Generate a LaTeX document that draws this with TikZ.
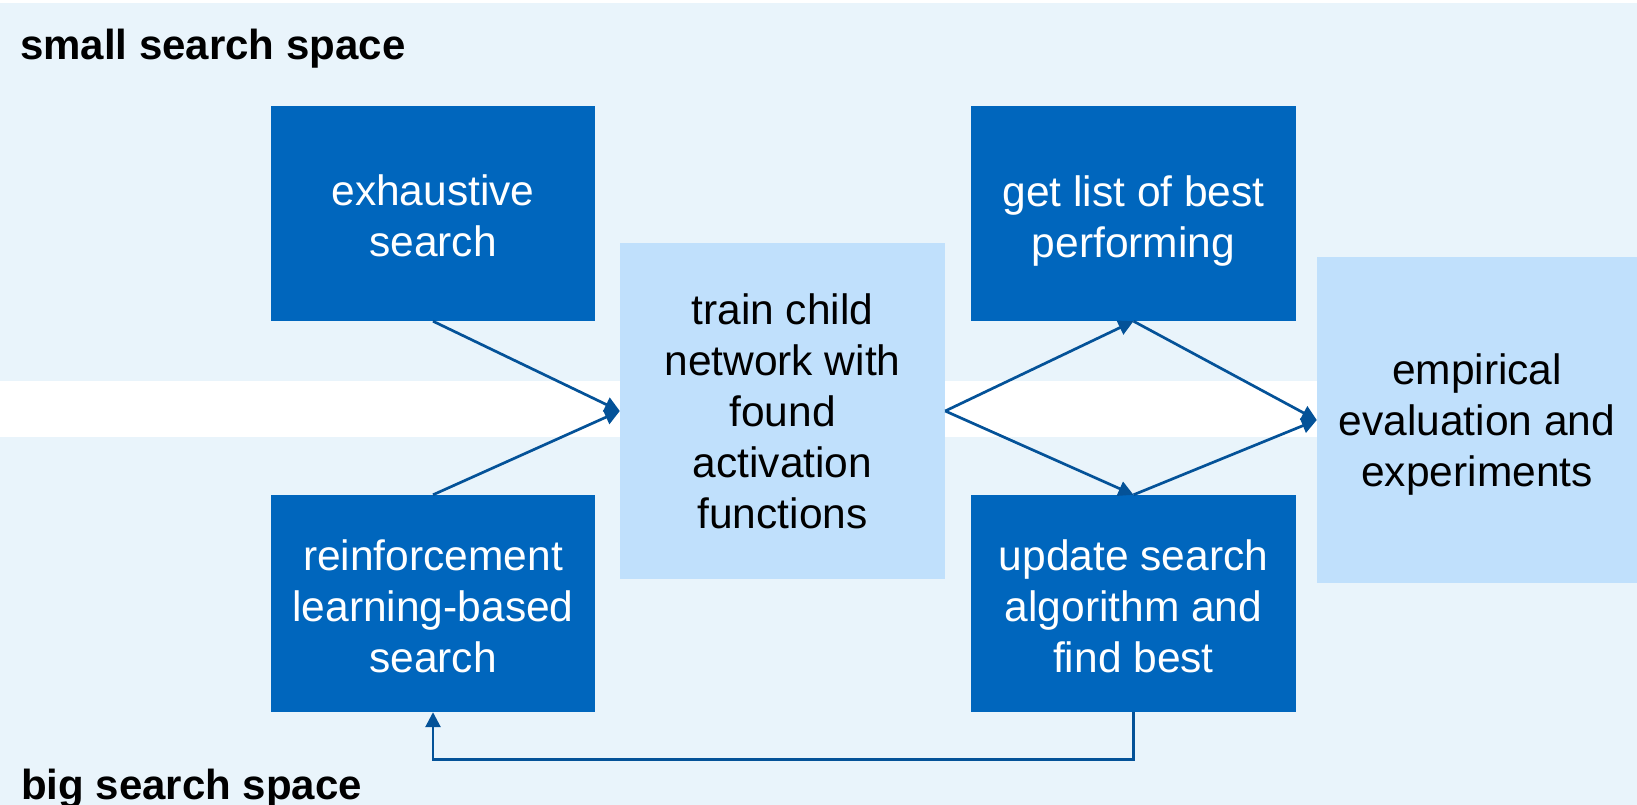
\documentclass[tikz,border=0pt]{standalone}
\usepackage{fontspec}
\setmainfont{Liberation Sans}
\usetikzlibrary{arrows.meta}
\definecolor{band}{RGB}{233,244,251}
\definecolor{darkbox}{RGB}{0,102,189}
\definecolor{lightbox}{RGB}{192,224,252}
\definecolor{arrowc}{RGB}{4,82,152}
\newcommand{\toppad}[1]{\rule{0pt}{#1pt}}
\tikzset{
  dbox/.style={fill=darkbox, text=white, inner sep=0pt, align=center,
    minimum width=324pt, font=\fontsize{42.5}{51}\selectfont},
  lbox/.style={fill=lightbox, text=black, inner sep=0pt, align=center,
    font=\fontsize{42.5}{51}\selectfont},
  conn/.style={draw=arrowc, line width=2.7pt, -{Triangle[length=15pt,width=15pt]}},
  bandlabel/.style={anchor=base west, inner sep=0pt, font=\fontsize{42}{50}\selectfont\bfseries}
}
\begin{document}
\begin{tikzpicture}[x=1pt,y=-1pt]
\useasboundingbox (0,0) rectangle (1637,805);
\fill[white] (0,0) rectangle (1637,805);
\fill[band] (0,3) rectangle (1637,381);
\fill[band] (0,437) rectangle (1637,805);
\node[bandlabel] (small) at (20,60) {small search space};
\node[bandlabel] (big) at (21,799) {big search space};
\node[dbox, minimum height=215pt] (exh) at (433,213.5) {\toppad{35}exhaustive\\search};
\node[dbox, minimum height=217pt] (rl) at (433,603.5) {\toppad{37}reinforcement\\learning-based\\search};
\node[lbox, minimum width=325pt, minimum height=336pt] (train) at (782.5,411) {train child\\network with\\found\\activation\\functions};
\node[dbox, minimum width=325pt, minimum height=215pt] (best) at (1133.5,213.5) {\toppad{45}get list of best\\performing};
\node[dbox, minimum width=325pt, minimum height=217pt] (upd) at (1133.5,603.5) {\toppad{37}update search\\algorithm and\\find best};
\node[lbox, minimum width=320pt, minimum height=326pt] (emp) at (1477,420) {\toppad{40}empirical\\evaluation and\\experiments};
\draw[conn] (exh.south) -- (train.west);
\draw[conn] (rl.north) -- (train.west);
\draw[conn] (train.east) -- (best.south);
\draw[conn] (train.east) -- (upd.north);
\draw[conn] (best.south) -- (emp.west);
\draw[conn] (upd.north) -- (emp.west);
\draw[conn] (upd.south) -- ++(0,47) -| (rl.south);
\end{tikzpicture}
\end{document}
